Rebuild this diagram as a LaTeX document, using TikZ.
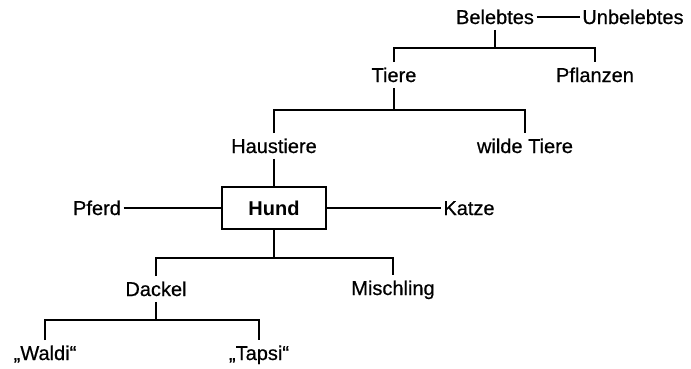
\documentclass[tikz,border=0pt]{standalone}
\usepackage{fontspec}
\setmainfont{Liberation Sans}
\newfontfamily\wordfont[FakeBold=0.6]{Liberation Sans}
\begin{document}
\begin{tikzpicture}[x=1pt,y=-1pt,line width=1.6pt,
  word/.style={anchor=base,inner xsep=2pt,inner ysep=5pt,text height=14pt,text depth=0pt,
    font=\fontsize{20}{24}\wordfont},
  wordbox/.style={draw,minimum width=104pt,minimum height=42pt,
    font=\fontsize{20}{24}\selectfont\bfseries}]
\useasboundingbox (0,0) rectangle (691,368);
\node(beleb)    at (495,24)[word]    {Belebtes};
\node(unbeleb)  at (633,24)[word]    {Unbelebtes};
\node(tiere)    at (394,82)[word]    {Tiere};
\node(pflanzen) at (595,82)[word]    {Pflanzen};
\node(haus)     at (274,153)[word]   {Haustiere};
\node(wilde)    at (525,153)[word]   {wilde Tiere};
\node(hund)     at (274,208)[wordbox]{Hund};
\node(pferd)    at (97,215)[word]    {Pferd};
\node(katze)    at (469,215)[word]   {Katze};
\node(dackel)   at (156,296)[word]   {Dackel};
\node(misch)    at (393,295)[word]   {Mischling};
\node(waldi)    at (45,360)[word]    {„Waldi“};
\node(tapsi)    at (259,360)[word]   {„Tapsi“};

\coordinate(bar1) at (beleb.south |- 0,48);
\coordinate(bar2) at (tiere.south |- 0,110);
\coordinate(bar3) at (hund.south |- 0,258);
\coordinate(bar4) at (dackel.south |- 0,320);

\draw (beleb) -- (unbeleb);
\draw (beleb.south) -- (bar1);
\draw (tiere.north) |- (bar1) -| (pflanzen.north);
\draw (tiere.south) -- (bar2);
\draw (haus.north) |- (bar2) -| (wilde.north);
\draw (haus.south) -- (hund.north);
\draw (pferd) -- (hund);
\draw (hund) -- (katze);
\draw (hund.south) -- (bar3);
\draw (dackel.north) |- (bar3) -| (misch.north);
\draw (dackel.south) -- (bar4);
\draw (waldi.north) |- (bar4) -| (tapsi.north);
\end{tikzpicture}
\end{document}
